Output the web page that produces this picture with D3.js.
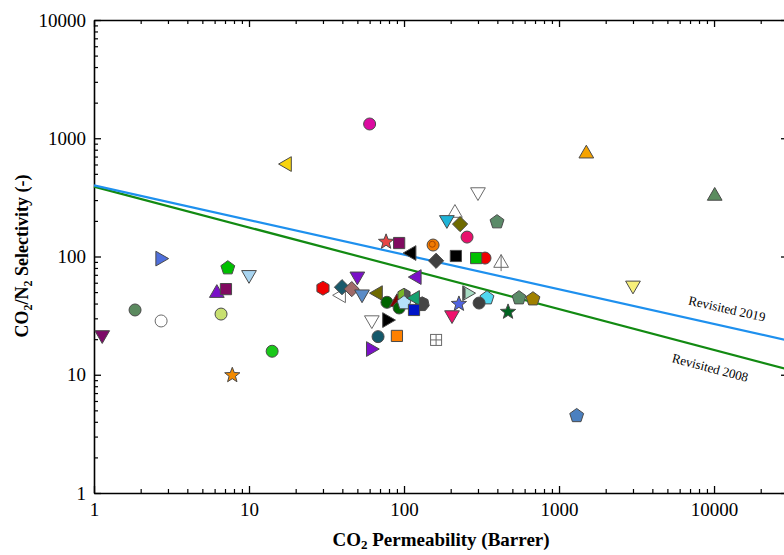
<!DOCTYPE html>
<html>
<head>
<meta charset="utf-8">
<script src="https://cdn.jsdelivr.net/npm/d3@7"></script>
<style>
body { margin: 0; background: #fff; }
svg { display: block; font-family: "Liberation Serif", "Times New Roman", serif; }
</style>
</head>
<body>
<svg id="chart" width="784" height="555"></svg>
<script>
// CO2 permeability (Barrer) and CO2/N2 selectivity of each membrane
const permeability = [
    60, 17.6, 1500, 10100, 3000, 1300, 7.8, 14.1,
    1.13, 1.84, 2.71, 2.67, 7.3, 10, 6.2, 7.1, 6.6,
    76.6, 93, 112, 300, 213, 189, 230, 398, 255, 154, 161, 216, 333, 292, 423,
    50, 30, 39.3, 39.8, 46, 53.6, 68, 77.6, 90, 93, 100, 100, 131, 118, 116,
    62, 77.6, 68, 90, 61, 121,
    255, 343, 305, 226, 204, 469, 552, 679, 161
];
const selectivity = [
    1320, 605, 740, 325, 57, 4.5, 9.9, 15.8,
    21.7, 35.3, 28.5, 96, 80, 70, 49, 53, 32.6,
    133, 130, 107, 351, 233, 204, 188, 196, 146, 125, 92, 101, 97, 97, 88,
    68, 54, 47, 55, 53, 48, 49, 41, 41, 36.7, 47, 40.5, 39.6, 44.6, 35.3,
    29, 29, 21, 21.3, 16.5, 67,
    49, 44.6, 40.4, 39.7, 32, 34, 44.6, 43.7, 19.7
];
const markerKind = [
    "circle", "triLeft", "triUp", "triUp", "triDown", "pentagon", "star", "circle",
    "triDown", "circle", "circle", "triRight", "pentagon", "triDown", "triUp", "square", "circle",
    "star", "square", "triLeft", "triDown", "triUp", "triDown", "diamond", "pentagon", "circle", "circleDot", "diamond", "square", "circle", "square", "arrowTri",
    "triDown", "hexagon", "triLeft", "diamond", "diamond", "triDown", "triLeft", "circle", "triUp", "circle", "halfHex", "pentagon", "heptagon", "triLeft", "square",
    "triDown", "triRight", "circle", "square", "triRight", "triLeft",
    "halfTri", "pentagon", "circle", "star", "triDown", "star", "pentagon", "pentagon", "boxPlus"
];
const markerFill = [
    "#db0aa0", "#f7d40f", "#f5a300", "#5b8c5f", "#f7f07a", "#4b80c0", "#f28a00", "#19c819",
    "#7d0a68", "#5b8a5f", "#ffffff", "#4f6fdc", "#00c000", "#a8d4f0", "#7a10c8", "#800a60", "#c8e070",
    "#e84646", "#800a60", "#000000", "#ffffff", "#ffffff", "#1eb4d8", "#6e6a00", "#5b8a68", "#e8106c", "#f07a00", "#404040", "#000000", "#f00000", "#00c000", "#ffffff",
    "#7a10c8", "#f00000", "#ffffff", "#1a5a6c", "#a06a68", "#5a8cc8", "#6e6a00", "#006400", "#800000", "#006400", "#78b428", "#b4e0fa", "#454545", "#14a070", "#0014c8",
    "#ffffff", "#000000", "#14586a", "#ff8000", "#7a10c8", "#7a10c8",
    "#505050", "#50d8f0", "#404040", "#5064e0", "#f0106c", "#006420", "#5b8a68", "#a08000", "#ffffff"
];

// upper bounds, end points (straight in log-log)
const boundPerm = [1, 30000];
const bound2019Sel = [400, 19.5];
const bound2008Sel = [390, 11.1];

const xMajor = [1, 10, 100, 1000, 10000];
const yMajor = [1, 10, 100, 1000, 10000];

const svg = d3.select("#chart");

const x = d3.scaleLog().domain([1, 30000]).range([94, 788]);
const y = d3.scaleLog().domain([1, 10000]).range([493, 20]);

const xMinor = [];
xMajor.forEach(d => d3.range(2, 10).forEach(k => { if (d * k <= 30000) xMinor.push(d * k); }));
const yMinor = [];
yMajor.slice(0, 4).forEach(d => d3.range(2, 10).forEach(k => yMinor.push(d * k)));

function styleAxis(g) {
    g.attr("font-family", null).attr("font-size", null);
    g.select(".domain").attr("stroke", "#000").attr("stroke-width", 1.6);
    g.selectAll(".tick line").attr("stroke", "#000").attr("stroke-width", 1.3);
    g.selectAll(".tick text").attr("fill", "#000").style("font-size", "19px");
}
function minorAxis(g) {
    g.select(".domain").remove();
    g.selectAll(".tick line").attr("stroke", "#000").attr("stroke-width", 1.2);
}

// bottom
svg.append("g").attr("transform", "translate(0,493)")
    .call(d3.axisBottom(x).tickValues(xMinor).tickFormat("").tickSizeInner(-4).tickSizeOuter(0))
    .call(minorAxis);
svg.append("g").attr("transform", "translate(0,493)")
    .call(d3.axisBottom(x).tickValues(xMajor).tickFormat(d3.format("d")).tickSizeInner(-7).tickSizeOuter(0).tickPadding(10))
    .call(styleAxis);
// top
svg.append("g").attr("transform", "translate(0,20)")
    .call(d3.axisTop(x).tickValues(xMinor).tickFormat("").tickSizeInner(-4).tickSizeOuter(0))
    .call(minorAxis);
svg.append("g").attr("transform", "translate(0,20)")
    .call(d3.axisTop(x).tickValues(xMajor).tickFormat("").tickSizeInner(-7).tickSizeOuter(0))
    .call(styleAxis);
// left
svg.append("g").attr("transform", "translate(94,0)")
    .call(d3.axisLeft(y).tickValues(yMinor).tickFormat("").tickSizeInner(-4).tickSizeOuter(0))
    .call(minorAxis);
svg.append("g").attr("transform", "translate(94,0)")
    .call(d3.axisLeft(y).tickValues(yMajor).tickFormat(d3.format("d")).tickSizeInner(-7).tickSizeOuter(0).tickPadding(8))
    .call(styleAxis);
// right (frame sits just past the picture edge)
svg.append("g").attr("transform", "translate(788,0)")
    .call(d3.axisRight(y).tickValues(yMinor).tickFormat("").tickSizeInner(-4).tickSizeOuter(0))
    .call(minorAxis);
svg.append("g").attr("transform", "translate(788,0)")
    .call(d3.axisRight(y).tickValues(yMajor).tickFormat("").tickSizeInner(-7).tickSizeOuter(0))
    .call(styleAxis);

// bound lines
const line = d3.line().x(d => x(d[0])).y(d => y(d[1]));
svg.append("path")
    .attr("d", line(d3.zip(boundPerm, bound2008Sel)))
    .attr("fill", "none").attr("stroke", "#128a12").attr("stroke-width", 2.2);
svg.append("path")
    .attr("d", line(d3.zip(boundPerm, bound2019Sel)))
    .attr("fill", "none").attr("stroke", "#1e90ee").attr("stroke-width", 2.2);

svg.append("text")
    .attr("transform", "translate(726,313) rotate(12.6)")
    .attr("text-anchor", "middle")
    .style("font-size", "13px")
    .text("Revisited 2019");
svg.append("text")
    .attr("transform", "translate(709,372) rotate(14.8)")
    .attr("text-anchor", "middle")
    .style("font-size", "13px")
    .text("Revisited 2008");

// marker shapes
function poly(n, R, rot) {
    const pts = d3.range(n).map(i => {
        const a = rot + i * 2 * Math.PI / n;
        return [(R * Math.sin(a)).toFixed(2), (-R * Math.cos(a)).toFixed(2)];
    });
    return "M" + pts.map(p => p.join(",")).join("L") + "Z";
}
function starPath(R, r) {
    const pts = d3.range(10).map(i => {
        const a = i * Math.PI / 5, rr = i % 2 ? r : R;
        return [(rr * Math.sin(a)).toFixed(2), (-rr * Math.cos(a)).toFixed(2)];
    });
    return "M" + pts.map(p => p.join(",")).join("L") + "Z";
}
const T = 8.5;
const shapePath = {
    circle: d3.symbol(d3.symbolCircle, 113)(),
    square: poly(4, 5.6 * Math.SQRT2, Math.PI / 4),
    diamond: poly(4, 7.6, 0),
    triUp: poly(3, T, 0),
    triDown: poly(3, T, Math.PI),
    triLeft: poly(3, T, -Math.PI / 2),
    triRight: poly(3, T, Math.PI / 2),
    pentagon: poly(5, 7.3, 0),
    hexagon: poly(6, 7, 0),
    heptagon: poly(7, 7.2, 0),
    star: starPath(8, 3.4)
};

const markers = svg.append("g");
permeability.forEach((p, i) => {
    const kind = markerKind[i], fill = markerFill[i];
    const g = markers.append("g").attr("transform", `translate(${x(p)},${y(selectivity[i])})`);
    const stroke = fill === "#ffffff" ? "#6a6a6a" : "#4a4a4a";
    if (shapePath[kind]) {
        g.append("path").attr("d", shapePath[kind])
            .attr("fill", fill).attr("stroke", stroke).attr("stroke-width", 1);
    } else if (kind === "circleDot") {
        g.append("circle").attr("r", 6).attr("fill", fill).attr("stroke", stroke);
        g.append("circle").attr("cx", -0.8).attr("cy", -0.8).attr("r", 3)
            .attr("fill", "none").attr("stroke", "#a84800").attr("stroke-width", 1);
    } else if (kind === "arrowTri") {
        g.append("path").attr("d", poly(3, T, 0)).attr("fill", fill).attr("stroke", stroke);
        g.append("path").attr("d", `M0,${-T}V${T * 0.95}`).attr("stroke", stroke);
    } else if (kind === "boxPlus") {
        g.append("rect").attr("x", -5.5).attr("y", -5.5).attr("width", 11).attr("height", 11)
            .attr("fill", fill).attr("stroke", stroke);
        g.append("path").attr("d", "M-5.5,0H5.5M0,-5.5V5.5").attr("stroke", stroke);
    } else if (kind === "halfHex") {
        g.append("path").attr("d", shapePath.hexagon).attr("fill", "#555555");
        g.append("path").attr("d", "M0,-7L-6.06,-3.5L-6.06,3.5L0,7Z").attr("fill", fill);
        g.append("path").attr("d", shapePath.hexagon).attr("fill", "none").attr("stroke", stroke);
    } else if (kind === "halfTri") {
        g.append("path").attr("d", shapePath.triRight).attr("fill", "#a8dcc4");
        g.append("path").attr("d", `M${-T / 2},${-T * 0.866}L-1.5,${-T * 0.866 + 3.4 * 0.577 * 1.5}L-1.5,${T * 0.866 - 3.4 * 0.577 * 1.5}L${-T / 2},${T * 0.866}Z`)
            .attr("fill", fill);
        g.append("path").attr("d", shapePath.triRight).attr("fill", "none").attr("stroke", stroke);
    }
});

// axis titles
const yTitle = svg.append("text")
    .attr("transform", "translate(28,256) rotate(-90)")
    .attr("text-anchor", "middle")
    .style("font-size", "18px").style("font-weight", "bold");
yTitle.append("tspan").text("CO");
yTitle.append("tspan").attr("dy", 4).style("font-size", "12px").text("2");
yTitle.append("tspan").attr("dy", -4).text("/N");
yTitle.append("tspan").attr("dy", 4).style("font-size", "12px").text("2");
yTitle.append("tspan").attr("dy", -4).text(" Selectivity (-)");

const xTitle = svg.append("text")
    .attr("x", 441).attr("y", 546)
    .attr("text-anchor", "middle")
    .style("font-size", "19px").style("font-weight", "bold");
xTitle.append("tspan").text("CO");
xTitle.append("tspan").attr("dy", 3).style("font-size", "13px").text("2");
xTitle.append("tspan").attr("dy", -3).text(" Permeability (Barrer)");
</script>
</body>
</html>
